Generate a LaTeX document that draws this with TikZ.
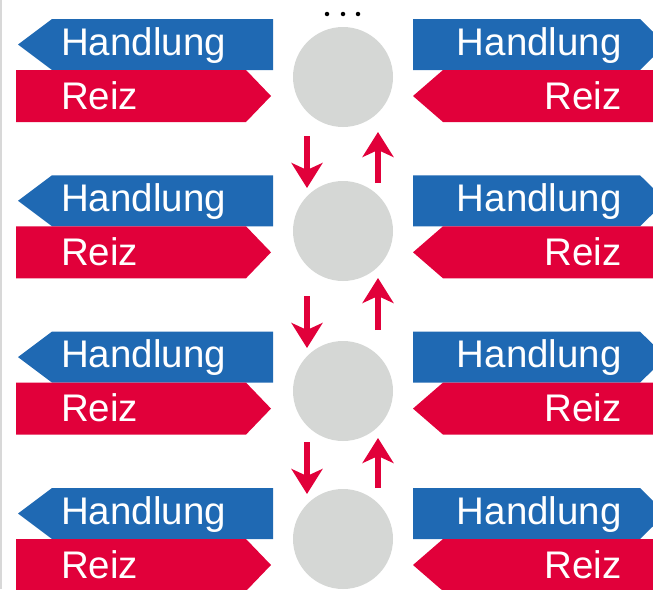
\documentclass[tikz,border=0pt]{standalone}
\usepackage{fontspec}
\setmainfont{Liberation Sans}
\usetikzlibrary{arrows.meta}
\definecolor{hblue}{HTML}{1F69B3}
\definecolor{hred}{HTML}{E1003A}
\definecolor{cgray}{HTML}{D5D7D5}
\definecolor{edgegray}{HTML}{D8D8D8}
\begin{document}
\begin{tikzpicture}[x=1pt,y=-1pt,
  blueband/.style={fill=hblue},
  redband/.style={fill=hred},
  lbl/.style={text=white,font=\fontsize{38.5}{38.5}\selectfont,inner sep=0pt},
  hub/.style={circle,fill=cgray,minimum size=100pt,inner sep=0pt},
  flow/.style={draw=hred,line width=6pt,-{Stealth[length=25pt,width=31pt,inset=7pt]}},
  dotmark/.style={circle,fill=black,minimum size=4.5pt,inner sep=0pt}]
\useasboundingbox (0,0) rectangle (653,589);
\clip (0,0) rectangle (653,589);
\draw[edgegray,line width=1.5pt] (1,0) -- (1,589);
\foreach \t [count=\i] in {19,175.3,331.6,488} {
  \pgfmathsetmacro{\m}{\t+51}
  \pgfmathsetmacro{\b}{\t+103}
  % left side
  \fill[blueband] (52,\t) -- (273,\t) -- (273,\m) -- (52,\m) -- (18,{\t+25.5}) -- cycle;
  \fill[redband] (16,\m) -- (246,\m) -- (271,{\m+26}) -- (246,\b) -- (16,\b) -- cycle;
  % right side
  \fill[blueband] (413,\t) -- (640,\t) -- (666,{\t+25.5}) -- (640,\m) -- (413,\m) -- cycle;
  \fill[redband] (443,\m) -- (660,\m) -- (660,\b) -- (443,\b) -- (413,{\m+26}) -- cycle;
  \node[lbl,anchor=base west] (hl\i) at (61,{\t+36}) {Handlung};
  \node[lbl,anchor=base west] (rl\i) at (61,{\t+90}) {Reiz};
  \node[lbl,anchor=base east] (hr\i) at (622,{\t+36}) {Handlung};
  \node[lbl,anchor=base east] (rr\i) at (622,{\t+90}) {Reiz};
}
\node[hub] (c1) at (343,77) {};
\node[hub] (c2) at (343,231) {};
\node[hub] (c3) at (343,391) {};
\node[hub] (c4) at (343,539) {};
\node[dotmark] (p1) at (327,14) {};
\node[dotmark] (p2) at (343,14) {};
\node[dotmark] (p3) at (358,14) {};
\coordinate (d1a) at (307,136); \coordinate (d1b) at (307,188);
\coordinate (u1a) at (378,183); \coordinate (u1b) at (378,132);
\coordinate (d2a) at (307,296); \coordinate (d2b) at (307,348);
\coordinate (u2a) at (378,330); \coordinate (u2b) at (378,278);
\coordinate (d3a) at (307,442); \coordinate (d3b) at (307,494);
\coordinate (u3a) at (378,488); \coordinate (u3b) at (378,438);
\draw[flow] (d1a) -- (d1b);
\draw[flow] (u1a) -- (u1b);
\draw[flow] (d2a) -- (d2b);
\draw[flow] (u2a) -- (u2b);
\draw[flow] (d3a) -- (d3b);
\draw[flow] (u3a) -- (u3b);
\end{tikzpicture}
\end{document}
